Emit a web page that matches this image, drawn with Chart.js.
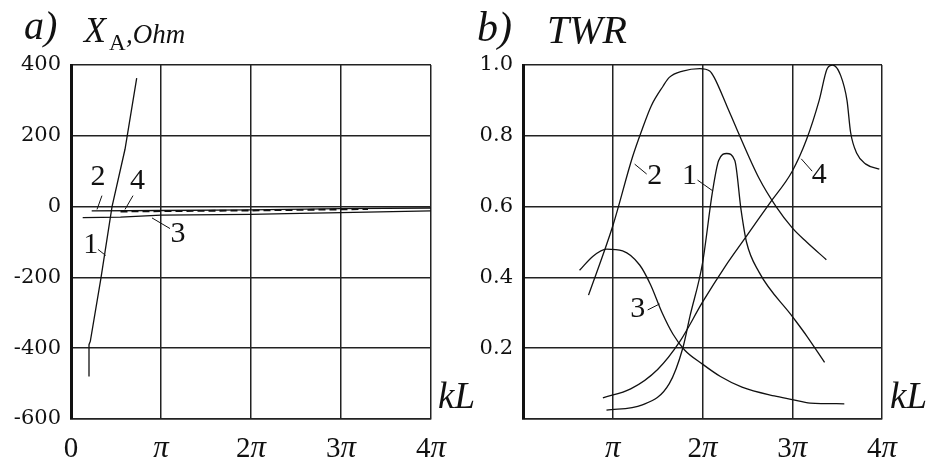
<!DOCTYPE html>
<html>
<head>
<meta charset="utf-8">
<script src="https://cdn.jsdelivr.net/npm/chart.js@4.4.1/dist/chart.umd.min.js"></script>
<style>
  body { margin: 0; background: #fff; width: 930px; height: 462px; position: relative; overflow: hidden; }
  canvas { position: absolute; top: 0; }
  #chartA { left: 0; }
  #chartB { left: 465px; }
</style>
</head>
<body>
<canvas id="chartA" width="490" height="462"></canvas>
<canvas id="chartB" width="465" height="462"></canvas>
<script>
// x values are kL / pi
var xTickLabels = ['0', 'π', '2π', '3π', '4π'];

// a) X_A, Ohm
var a1X = [0.2, 0.2, 0.215, 0.33, 0.456, 0.6, 0.73];
var a1Y = [-480, -390, -380, -206, 0, 162, 363];
var a2X = [0.23, 1, 2, 3, 4];
var a2Y = [-12, -11, -9, -6, -4];
var a3X = [0.13, 0.55, 1, 2, 2.4, 3, 4];
var a3Y = [-31, -30, -24, -22, -20, -17, -12];
var a4X = [0.55, 1, 2, 3, 3.3];
var a4Y = [-14, -13, -11, -8, -7];

// b) TWR
var b1X = [0.93, 1.33, 1.63, 1.78, 1.86, 2.0, 2.11, 2.18, 2.27, 2.36, 2.43, 2.49, 2.63, 3.0, 3.16, 3.36];
var b1Y = [0.025, 0.04, 0.1, 0.2, 0.29, 0.44, 0.64, 0.73, 0.75, 0.73, 0.59, 0.5, 0.415, 0.29, 0.235, 0.16];
var b2X = [0.73, 1.0, 1.22, 1.33, 1.43, 1.56, 1.63, 1.78, 1.97, 2.08, 2.13, 2.27, 2.38, 2.63, 2.82, 3.0, 3.16, 3.38];
var b2Y = [0.35, 0.545, 0.74, 0.82, 0.885, 0.94, 0.965, 0.983, 0.99, 0.983, 0.965, 0.885, 0.82, 0.68, 0.6, 0.54, 0.5, 0.45];
var b3X = [0.63, 0.78, 0.93, 1.11, 1.3, 1.42, 1.55, 1.67, 1.8, 2.0, 2.2, 2.44, 2.8, 3.0, 3.2, 3.58];
var b3Y = [0.42, 0.46, 0.48, 0.475, 0.435, 0.38, 0.3, 0.24, 0.195, 0.155, 0.12, 0.09, 0.065, 0.055, 0.045, 0.043];
var b4X = [0.89, 1.2, 1.5, 1.75, 2.0, 2.25, 2.5, 2.75, 3.0, 3.16, 3.3, 3.39, 3.45, 3.54, 3.61, 3.65, 3.72, 3.82, 3.97];
var b4Y = [0.06, 0.085, 0.14, 0.22, 0.33, 0.43, 0.52, 0.61, 0.70, 0.79, 0.9, 0.99, 1.0, 0.97, 0.9, 0.81, 0.75, 0.72, 0.706];

// curve numbers with their leader lines (data units)
var aNotes = [
  {t: '2', x: 0.30, y: 82, from: [0.344, 31], to: [0.289, -8]},
  {t: '4', x: 0.74, y: 71, from: [0.689, 31], to: [0.60, -8]},
  {t: '1', x: 0.22, y: -110, from: [0.30, -121], to: [0.385, -138]},
  {t: '3', x: 1.19, y: -79, from: [1.10, -62], to: [0.90, -32]}
];
var bNotes = [
  {t: '2', x: 1.467, y: 0.686, from: [1.378, 0.692], to: [1.244, 0.72]},
  {t: '1', x: 1.856, y: 0.686, from: [1.944, 0.675], to: [2.111, 0.645]},
  {t: '4', x: 3.30, y: 0.69, from: [3.222, 0.70], to: [3.10, 0.735]},
  {t: '3', x: 1.278, y: 0.311, from: [1.389, 0.308], to: [1.522, 0.325]}
];

function pts(xs, ys) {
  return xs.map(function (x, i) { return {x: x, y: ys[i]}; });
}

function line(xs, ys, dash, smooth) {
  return {
    data: pts(xs, ys),
    borderColor: '#111',
    borderWidth: dash ? 1.8 : 1.3,
    borderDash: dash || [],
    pointRadius: 0,
    fill: false,
    tension: smooth ? 0.4 : 0,
    cubicInterpolationMode: smooth ? 'monotone' : 'default'
  };
}

// draws pi tick labels, curve numbers, titles
function decor(notes, skipZero, titles) {
  return {
    id: 'decor',
    afterDraw: function (chart) {
      var ctx = chart.ctx, xs = chart.scales.x, ys = chart.scales.y;
      ctx.save();
      ctx.fillStyle = '#111';
      ctx.strokeStyle = '#111';
      ctx.textBaseline = 'alphabetic';
      // x tick labels
      xTickLabels.forEach(function (lab, i) {
        if (skipZero && i === 0) return;
        var px = xs.getPixelForValue(i);
        var num = lab.replace('π', '');
        var hasPi = lab.indexOf('π') >= 0;
        ctx.font = '29px "Liberation Serif"';
        var w1 = ctx.measureText(num).width;
        ctx.font = 'italic 31px "Liberation Serif"';
        var w2 = hasPi ? ctx.measureText('π').width : 0;
        var x0 = px - (w1 + w2) / 2;
        ctx.textAlign = 'left';
        ctx.font = '29px "Liberation Serif"';
        ctx.fillText(num, x0, 457);
        if (hasPi) {
          ctx.font = 'italic 31px "Liberation Serif"';
          ctx.fillText('π', x0 + w1, 457);
        }
      });
      // curve numbers
      ctx.lineWidth = 1;
      notes.forEach(function (n) {
        ctx.beginPath();
        ctx.moveTo(xs.getPixelForValue(n.from[0]), ys.getPixelForValue(n.from[1]));
        ctx.lineTo(xs.getPixelForValue(n.to[0]), ys.getPixelForValue(n.to[1]));
        ctx.stroke();
        ctx.font = '30px "Liberation Serif"';
        ctx.textAlign = 'center';
        ctx.textBaseline = 'middle';
        ctx.fillText(n.t, xs.getPixelForValue(n.x), ys.getPixelForValue(n.y));
      });
      // titles and axis name
      ctx.textBaseline = 'alphabetic';
      ctx.textAlign = 'left';
      titles.forEach(function (t) {
        ctx.font = t.f;
        ctx.fillText(t.s, t.x, t.y);
      });
      ctx.restore();
    }
  };
}

function options(yMin, yMax, yStep, fmt, leftW, rightPad) {
  return {
    responsive: false,
    animation: false,
    devicePixelRatio: 1,
    events: [],
    layout: {padding: {top: 65, right: rightPad, left: 0, bottom: 0}},
    plugins: {legend: {display: false}, tooltip: {enabled: false}},
    scales: {
      x: {
        type: 'linear', min: 0, max: 4,
        ticks: {display: false, stepSize: 1},
        grid: {color: '#222', lineWidth: 1.5, drawTicks: false},
        border: {color: '#222', width: 1.5},
        afterFit: function (s) { s.height = 43; }
      },
      y: {
        type: 'linear', min: yMin, max: yMax,
        ticks: {
          stepSize: yStep, padding: 10, color: '#111',
          font: {family: 'DejaVu Serif', size: 21},
          callback: fmt
        },
        grid: {color: '#222', lineWidth: 1.5, drawTicks: false},
        border: {color: '#111', width: 3},
        afterFit: function (s) { s.width = leftW; }
      }
    }
  };
}

new Chart(document.getElementById('chartA'), {
  type: 'line',
  data: {
    datasets: [
      line(a1X, a1Y),
      line(a2X, a2Y),
      line(a3X, a3Y),
      line(a4X, a4Y, [7, 4])
    ]
  },
  options: options(-600, 400, 200, function (v) { return String(v); }, 71, 59),
  plugins: [decor(aNotes, false, [
    {s: 'a)', x: 24, y: 39, f: 'italic 40px "Liberation Serif"'},
    {s: 'X', x: 84, y: 42, f: 'italic 36px "Liberation Serif"'},
    {s: 'A', x: 109, y: 50, f: '23px "Liberation Serif"'},
    {s: ',Ohm', x: 126, y: 43, f: 'italic 27px "Liberation Serif"'},
    {s: 'kL', x: 438, y: 408, f: 'italic 37px "Liberation Serif"'}
  ])]
});

new Chart(document.getElementById('chartB'), {
  type: 'line',
  data: {
    datasets: [
      line(b1X, b1Y, null, true),
      line(b2X, b2Y, null, true),
      line(b3X, b3Y, null, true),
      line(b4X, b4Y, null, true)
    ]
  },
  options: options(0, 1, 0.2, function (v) { return v < 0.01 ? '' : v.toFixed(1); }, 58, 48),
  plugins: [decor(bNotes, true, [
    {s: 'b)', x: 12, y: 41, f: 'italic 42px "Liberation Serif"'},
    {s: 'TWR', x: 82, y: 43, f: 'italic 40px "Liberation Serif"'},
    {s: 'kL', x: 425, y: 408, f: 'italic 37px "Liberation Serif"'}
  ])]
});
</script>
</body>
</html>
